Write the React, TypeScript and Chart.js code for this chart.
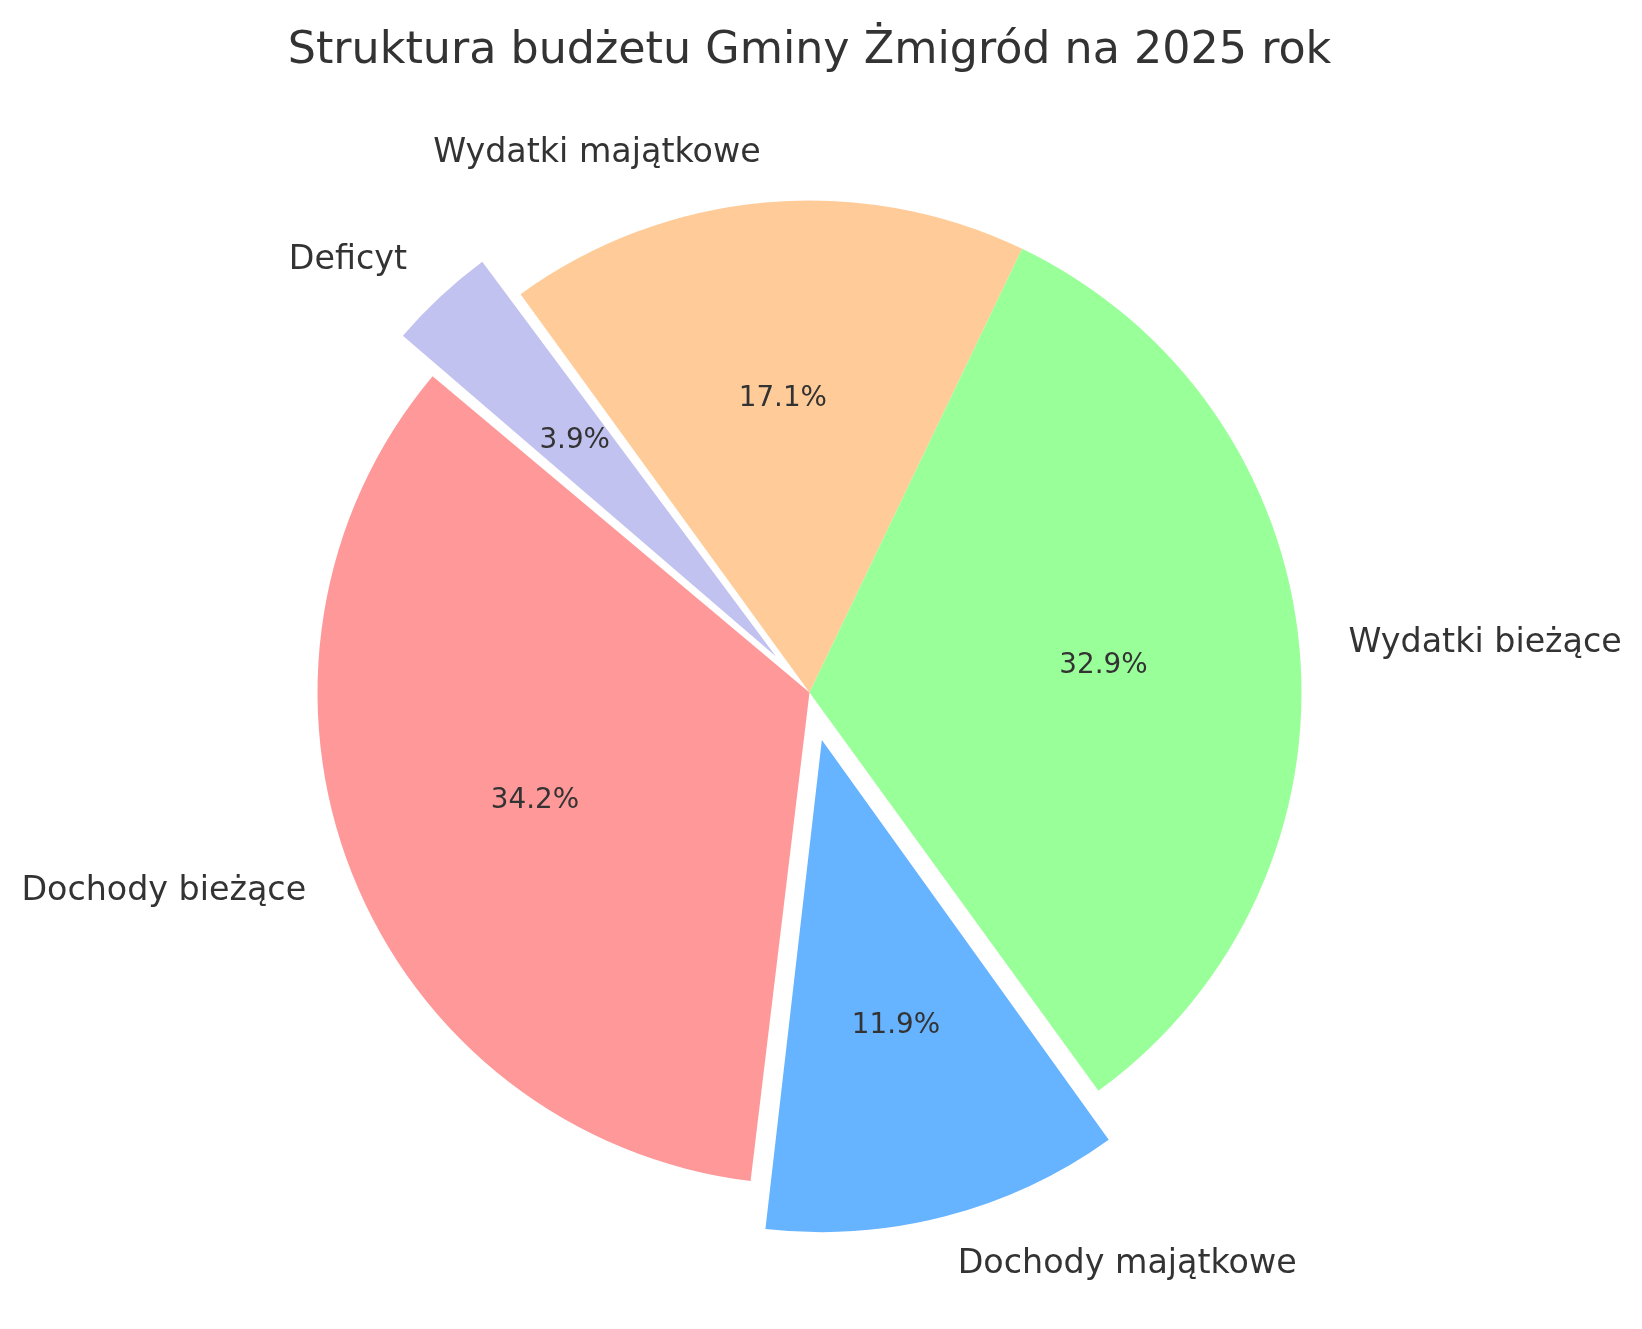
import React, { useEffect, useRef } from "react";
import { Chart, registerables } from "chart.js";

Chart.register(...registerables);

const TITLE = "Struktura budżetu Gminy Żmigród na 2025 rok";
const categories = ["Dochody bieżące", "Dochody majątkowe", "Wydatki bieżące", "Wydatki majątkowe", "Deficyt"];
const shares = [34.2, 11.9, 32.9, 17.1, 3.9];
const explode = [0, 0.1, 0, 0, 0.1];
const colors = ["#ff9999", "#66b3ff", "#99ff99", "#ffcc99", "#c2c2f0"];
const START_ANGLE = 140; // counter-clockwise, degrees from +x axis

const W = 1642;
const H = 1329;
const RADIUS = 492;
const FONT = '"DejaVu Sans", "Liberation Sans", sans-serif';
const TEXT_COLOR = "#333333";
const LABEL_DISTANCE = 1.1;
const PCT_DISTANCE = 0.6;

// Chart.js draws clockwise; reverse so the visual order matches a CCW pie
const n = categories.length;
const order = categories.map((_, i) => n - 1 - i);

const pieTextPlugin = {
  id: "pieText",
  afterDatasetUpdate(chart: any) {
    const meta = chart.getDatasetMeta(0);
    const R = meta.controller.outerRadius;
    meta.data.forEach((arc: any, j: number) => {
      const i = order[j];
      const shift = explode[i] * R;
      if (shift > 0) {
        const circ = arc.endAngle - arc.startAngle;
        const fix = 1 - Math.sin(Math.min(Math.PI, circ));
        arc.outerRadius = R - shift * fix;
      }
    });
  },
  afterDraw(chart: any) {
    const ctx = chart.ctx;
    const meta = chart.getDatasetMeta(0);
    const R = meta.controller.outerRadius;
    ctx.save();
    ctx.fillStyle = TEXT_COLOR;
    const cx0 = meta.data[0].x;
    ctx.font = `44.4px ${FONT}`;
    ctx.textAlign = "center";
    ctx.textBaseline = "alphabetic";
    ctx.fillText(TITLE, cx0, 62.5);

    meta.data.forEach((arc: any, j: number) => {
      const i = order[j];
      const mid = (arc.startAngle + arc.endAngle) / 2;
      const c = Math.cos(mid);
      const s = Math.sin(mid);
      const shift = explode[i] * R;
      const px = arc.x + c * shift;
      const py = arc.y + s * shift;
      ctx.textBaseline = "middle";
      ctx.font = `33.3px ${FONT}`;
      ctx.textAlign = c > 0 ? "left" : "right";
      ctx.fillText(categories[i], px + c * R * LABEL_DISTANCE, py + s * R * LABEL_DISTANCE);
      ctx.font = `27.8px ${FONT}`;
      ctx.textAlign = "center";
      ctx.fillText(`${shares[i].toFixed(1)}%`, px + c * R * PCT_DISTANCE, py + s * R * PCT_DISTANCE);
    });
    ctx.restore();
  },
};

export default function App() {
  const ref = useRef<HTMLCanvasElement | null>(null);

  useEffect(() => {
    if (!ref.current) return;
    const chart = new Chart(ref.current, {
      type: "pie",
      data: {
        labels: order.map((i) => categories[i]),
        datasets: [
          {
            data: order.map((i) => shares[i]),
            backgroundColor: order.map((i) => colors[i]),
            borderWidth: 0,
            offset: order.map((i) => explode[i] * RADIUS * 4),
            clip: false,
          } as any,
        ],
      },
      options: {
        responsive: false,
        animation: false,
        devicePixelRatio: 1,
        radius: RADIUS,
        rotation: 90 - START_ANGLE,
        layout: { padding: { left: 0, right: 23, top: 56, bottom: 0 } },
        plugins: {
          legend: { display: false },
          tooltip: { enabled: false },
          title: { display: false },
        },
        events: [],
      } as any,
      plugins: [pieTextPlugin],
    });
    return () => chart.destroy();
  }, []);

  return (
    <div style={{ position: "absolute", left: 0, top: 0, width: W, height: H, background: "#ffffff" }}>
      <canvas ref={ref} width={W} height={H} style={{ display: "block" }} />
    </div>
  );
}
